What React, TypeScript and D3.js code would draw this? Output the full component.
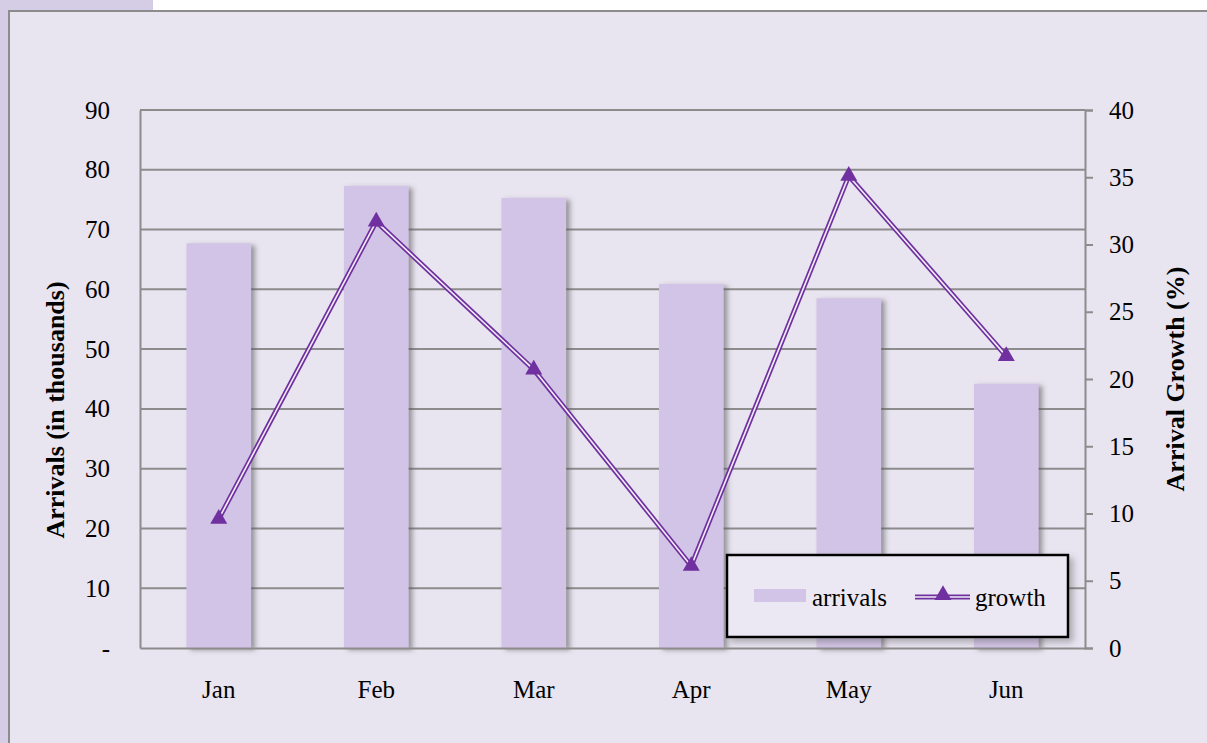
import React, { useEffect, useRef } from 'react';
import * as d3 from 'd3';

const months = ['Jan', 'Feb', 'Mar', 'Apr', 'May', 'Jun'];
const arrivals = [67.7, 77.3, 75.3, 60.9, 58.5, 44.2];
const growth = [9.6, 31.7, 20.7, 6.1, 35.1, 21.7];
const leftTicks = [0, 10, 20, 30, 40, 50, 60, 70, 80, 90];
const rightTicks = [0, 5, 10, 15, 20, 25, 30, 35, 40];

export default function App() {
    const svgRef = useRef<SVGSVGElement>(null);

    useEffect(() => {
        const svg = d3.select(svgRef.current);
        svg.selectAll('*').remove();

        const width = 1207;
        const height = 743;
        const marginLeft = 140;
        const marginRight = 122;
        const marginTop = 110;
        const marginBottom = 95;
        const font = '"Liberation Serif", "Times New Roman", serif';
        const fs = 25;
        const purple = '#7030a0';

        const defs = svg.append('defs');
        const shadow = defs.append('filter').attr('id', 'barShadow')
            .attr('x', '-20%').attr('y', '-20%').attr('width', '150%').attr('height', '150%');
        shadow.append('feDropShadow')
            .attr('dx', 4).attr('dy', 2).attr('stdDeviation', 2.5)
            .attr('flood-color', '#555').attr('flood-opacity', 0.55);
        const boxShadow = defs.append('filter').attr('id', 'boxShadow')
            .attr('x', '-10%').attr('y', '-10%').attr('width', '130%').attr('height', '140%');
        boxShadow.append('feDropShadow')
            .attr('dx', 4).attr('dy', 4).attr('stdDeviation', 3)
            .attr('flood-color', '#555').attr('flood-opacity', 0.4);

        // page background
        svg.append('rect').attr('width', width).attr('height', height).attr('fill', '#ffffff');
        svg.append('rect').attr('x', 0).attr('y', 0).attr('width', 153).attr('height', height).attr('fill', '#d5cce6');
        svg.append('rect').attr('x', 9).attr('y', 11).attr('width', width).attr('height', height)
            .attr('fill', '#e8e4f0').attr('stroke', '#8c8c8c').attr('stroke-width', 2);

        const x = d3.scaleBand()
            .domain(months)
            .range([marginLeft, width - marginRight])
            .paddingInner(0.59)
            .paddingOuter(0.295);

        const y = d3.scaleLinear().domain([0, 90]).range([height - marginBottom, marginTop]);
        const y2 = d3.scaleLinear().domain([0, 40]).range([height - marginBottom, marginTop]);

        // gridlines
        svg.append('g')
            .selectAll('line')
            .data(leftTicks.slice(1))
            .join('line')
            .attr('x1', marginLeft).attr('x2', width - marginRight)
            .attr('y1', d => y(d)).attr('y2', d => y(d))
            .attr('stroke', '#8c8c8c').attr('stroke-width', 2);

        // left axis
        svg.append('g')
            .attr('transform', `translate(${marginLeft},0)`)
            .call(d3.axisLeft(y).tickValues(leftTicks).tickSize(0).tickPadding(30)
                .tickFormat(d => (d === 0 ? '-' : String(d))))
            .call(g => g.select('.domain').attr('stroke', '#8c8c8c').attr('stroke-width', 2))
            .call(g => g.selectAll('text').attr('font-family', font).attr('font-size', fs).attr('fill', '#000'));

        // right axis
        svg.append('g')
            .attr('transform', `translate(${width - marginRight},0)`)
            .call(d3.axisRight(y2).tickValues(rightTicks).tickSize(8).tickPadding(16))
            .call(g => g.select('.domain').attr('stroke', '#8c8c8c').attr('stroke-width', 2))
            .call(g => g.selectAll('.tick line').attr('stroke', '#8c8c8c').attr('stroke-width', 2))
            .call(g => g.selectAll('text').attr('font-family', font).attr('font-size', fs).attr('fill', '#000'));

        // bars
        svg.append('g')
            .selectAll('rect')
            .data(arrivals)
            .join('rect')
            .attr('x', (d, i) => x(months[i]) as number)
            .attr('y', d => y(d))
            .attr('width', x.bandwidth())
            .attr('height', d => y(0) - y(d))
            .attr('fill', '#d2c4e6')
            .attr('filter', 'url(#barShadow)');

        // bottom axis
        svg.append('g')
            .attr('transform', `translate(0,${height - marginBottom})`)
            .call(d3.axisBottom(x).tickSize(0).tickPadding(32))
            .call(g => g.select('.domain').attr('stroke', '#8c8c8c').attr('stroke-width', 2))
            .call(g => g.selectAll('text').attr('font-family', font).attr('font-size', fs).attr('fill', '#000'));

        // growth line (double stroke)
        const pts = growth.map((d, i) => [(x(months[i]) as number) + x.bandwidth() / 2, y2(d)] as [number, number]);
        const line = d3.line();
        svg.append('path').attr('d', line(pts)).attr('fill', 'none')
            .attr('stroke', purple).attr('stroke-width', 5).attr('stroke-linejoin', 'miter');
        svg.append('path').attr('d', line(pts)).attr('fill', 'none')
            .attr('stroke', '#f1eef6').attr('stroke-width', 1.6).attr('stroke-linejoin', 'miter');

        const tri = d3.symbol().type(d3.symbolTriangle).size(125);
        svg.append('g')
            .selectAll('path')
            .data(pts)
            .join('path')
            .attr('transform', d => `translate(${d[0]},${d[1]})`)
            .attr('d', tri())
            .attr('fill', purple);

        // axis titles
        svg.append('text')
            .attr('transform', `translate(64,${(marginTop + height - marginBottom) / 2 + 31}) rotate(-90)`)
            .attr('text-anchor', 'middle')
            .attr('font-family', font).attr('font-size', 26).attr('font-weight', 'bold')
            .text('Arrivals (in thousands)');
        svg.append('text')
            .attr('transform', `translate(1184,${(marginTop + height - marginBottom) / 2}) rotate(-90)`)
            .attr('text-anchor', 'middle')
            .attr('font-family', font).attr('font-size', 26).attr('font-weight', 'bold')
            .text('Arrival Growth (%)');

        // legend
        const lg = svg.append('g').attr('transform', 'translate(727,555)');
        lg.append('rect').attr('width', 341).attr('height', 82)
            .attr('fill', '#ece8f3').attr('stroke', '#000').attr('stroke-width', 2.5)
            .attr('filter', 'url(#boxShadow)');
        lg.append('rect').attr('x', 27).attr('y', 34).attr('width', 52).attr('height', 13).attr('fill', '#d2c4e6');
        lg.append('text').attr('x', 85).attr('y', 51)
            .attr('font-family', font).attr('font-size', fs).text('arrivals');
        const lp: [number, number][] = [[188, 42], [243, 42]];
        lg.append('path').attr('d', line(lp)).attr('stroke', purple).attr('stroke-width', 5).attr('fill', 'none');
        lg.append('path').attr('d', line(lp)).attr('stroke', '#f1eef6').attr('stroke-width', 1.6).attr('fill', 'none');
        lg.append('path').attr('transform', 'translate(216,40)').attr('d', tri()).attr('fill', purple);
        lg.append('text').attr('x', 248).attr('y', 51)
            .attr('font-family', font).attr('font-size', fs).text('growth');
    }, []);

    return (
        <svg ref={svgRef} width={1207} height={743} style={{ display: 'block', position: 'absolute', left: 0, top: 0 }}></svg>
    );
}
